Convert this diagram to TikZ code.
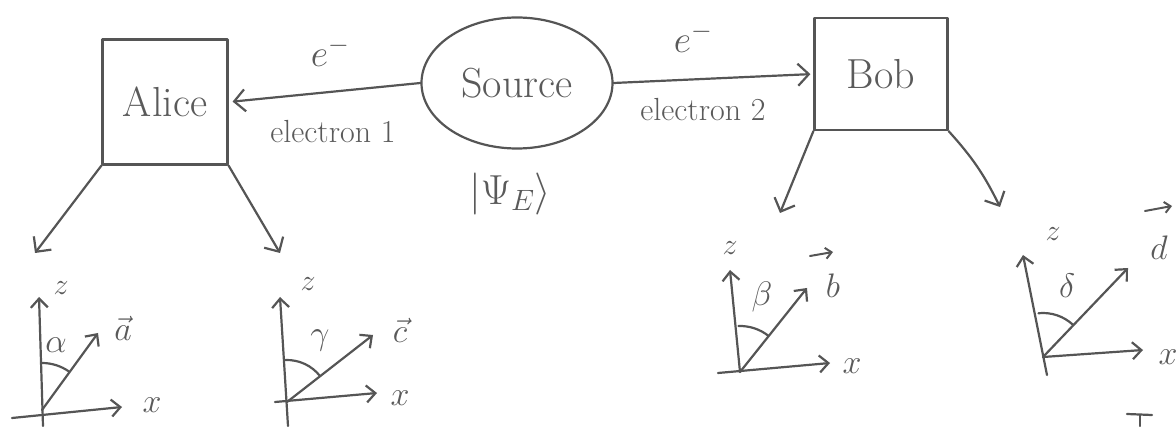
\RequirePackage{fix-cm}
\documentclass[tikz,border=0pt]{standalone}
\usepackage{fontspec}
\usetikzlibrary{arrows.meta,shapes.geometric}
\definecolor{ink}{HTML}{555555}
\definecolor{txt}{HTML}{5A5A5A}
\begin{document}
\begin{tikzpicture}[x=1pt,y=1pt,color=ink,line width=2.2pt,line cap=round,line join=round,
  every node/.style={text=txt},
  box/.style={draw=ink,inner sep=0pt,font=\fontsize{42}{44}\selectfont},
  blob/.style={draw=ink,ellipse,inner sep=0pt,minimum width=191pt,minimum height=131pt,font=\fontsize{42}{44}\selectfont},
  flow/.style={-{Straight Barb[length=11pt,width=22pt,line width=2.2pt]}},
  axis/.style={-{Straight Barb[length=9pt,width=17pt,line width=2.2pt]}},
  vecarrow/.style={-{Straight Barb[length=6pt,width=11pt,line width=2pt]},line width=2pt},
  lbl/.style={font=\fontsize{34}{36}\selectfont,inner sep=0pt},
  small/.style={font=\fontsize{30}{32}\selectfont,inner sep=0pt},
  elab/.style={font=\fontsize{32}{34}\selectfont,inner sep=1pt}]
\useasboundingbox (0,0) rectangle (1176,426);

% main nodes
\node[box,minimum width=125pt,minimum height=125pt] (alice) at (165,324) {Alice};
\node[blob] (src) at (517,343) {Source};
\node[box,minimum width=133pt,minimum height=112pt] (bob) at (881,352) {Bob};

% electrons
\draw[flow,shorten >=4pt] (src.west) -- (alice.east);
\draw[flow,shorten >=3pt] (src.east) -- (bob.west);
\node[lbl,font=\fontsize{38}{40}\selectfont] (e1) at (330,374) {$e^-$};
\node[lbl,font=\fontsize{38}{40}\selectfont] (e2) at (693,388) {$e^-$};
\node[elab] (el1) at (333,294) {electron 1};
\node[elab] (el2) at (703,316) {electron 2};
\node[font=\fontsize{42}{44}\selectfont] (psi) at (510,232) {$|\Psi_E\rangle$};

% measurement arrows
\coordinate (tA1) at (35,173);
\coordinate (tA2) at (280,173);
\coordinate (tB1) at (780,213);
\coordinate (tB2) at (1000,219);
\draw[flow] (alice.south west) -- (tA1);
\draw[flow] (alice.south east) -- (tA2);
\draw[flow] (bob.south west) -- (tB1);
\draw[flow] (bob.south east) to[bend left=8] (tB2);

% frame a
\coordinate (oA) at (42,16);
\coordinate (zA) at (39,129);
\coordinate (zA0) at (43,0);
\coordinate (xA0) at (12,8);
\coordinate (xA) at (122,19);
\coordinate (vA) at (98,93);
\draw[axis] (zA0) -- (zA);
\draw[axis] (xA0) -- (xA);
\draw[axis] (oA) -- (vA);
\draw (oA) ++(90:47) arc[start angle=90,end angle=55,radius=47];
\node[small] (zlA) at (61,138) {$z$};
\node[lbl] (xlA) at (152,21) {$x$};
\node[lbl] (alA) at (123,98) {$\vec{a}$};
\node[lbl] (angA) at (56,81) {$\alpha$};

% frame c
\coordinate (oC) at (287,24);
\coordinate (zC) at (280,129);
\coordinate (zC0) at (288,0);
\coordinate (xC0) at (275,24);
\coordinate (xC) at (377,33);
\coordinate (vC) at (373,91);
\draw[axis] (zC0) -- (zC);
\draw[axis] (xC0) -- (xC);
\draw[axis] (oC) -- (vC);
\draw (oC) ++(92:42) arc[start angle=92,end angle=38,radius=42];
\node[small] (zlC) at (308,142) {$z$};
\node[lbl] (xlC) at (400,28) {$x$};
\node[lbl] (clC) at (400,96) {$\vec{c}$};
\node[lbl] (angC) at (320,86) {$\gamma$};

% frame b
\coordinate (oB) at (740,54);
\coordinate (zB) at (730,156);
\coordinate (xB0) at (718,53);
\coordinate (xB) at (830,63);
\coordinate (vB) at (807,138);
\draw[axis] (oB) -- (zB);
\draw[axis] (xB0) -- (xB);
\draw[axis] (oB) -- (vB);
\draw (oB) ++(92:46) arc[start angle=92,end angle=52,radius=46];
\node[small] (zlB) at (730,178) {$z$};
\node[lbl] (xlB) at (852,60) {$x$};
\node[lbl] (blB) at (833,140) {$b$};
\coordinate (bvL) at (810,170);
\coordinate (bvR) at (833,174);
\draw[vecarrow] (bvL) -- (bvR);
\node[lbl] (angB) at (762,129) {$\beta$};

% frame d
\coordinate (oD) at (1043,69);
\coordinate (zD) at (1023,171);
\coordinate (zD0) at (1047,51);
\coordinate (xD) at (1143,76);
\coordinate (vD) at (1128,158);
\draw[axis] (zD0) -- (zD);
\draw[axis] (oD) -- (xD);
\draw[axis] (oD) -- (vD);
\draw (oD) ++(96:44) arc[start angle=96,end angle=47,radius=44];
\node[small] (zlD) at (1053,192) {$z$};
\node[lbl] (xlD) at (1168,69) {$x$};
\node[lbl] (dlD) at (1159,178) {$d$};
\coordinate (dvL) at (1145,215);
\coordinate (dvR) at (1172,220);
\draw[vecarrow] (dvL) -- (dvR);
\node[lbl] (angD) at (1067,140) {$\delta$};

% cut-off stroke at the lower right
\coordinate (tL) at (1127,12);
\coordinate (tR) at (1152,11);
\coordinate (tM) at (1140,11);
\coordinate (tD) at (1140,0);
\draw (tL) -- (tR);
\draw (tM) -- (tD);
\end{tikzpicture}
\end{document}
